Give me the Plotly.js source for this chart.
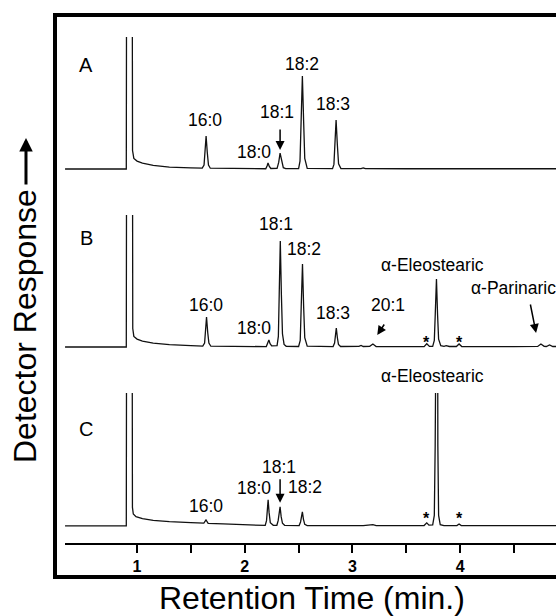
<!DOCTYPE html>
<html>
<head>
<meta charset="utf-8">
<script src="https://cdn.plot.ly/plotly-3.0.1.min.js"></script>
<style>
html, body { margin: 0; padding: 0; background: #fff; overflow: hidden; }
#chart { width: 556px; height: 616px; }
</style>
</head>
<body>
<div id="chart"></div>
<script>
// Retention time (min) and detector response (% of full scale; 300 = off-scale) for each chromatogram
const timeA = [0.331, 0.900, 0.905, 0.952, 0.958, 0.970, 1.000, 1.050, 1.150, 1.300, 1.500,
  1.605, 1.622, 1.631, 1.641, 1.652, 1.663, 1.680, 1.900, 2.100,
  2.195, 2.208, 2.216, 2.228, 2.242, 2.300, 2.315, 2.328, 2.341, 2.358, 2.380,
  2.500, 2.513, 2.523, 2.535, 2.547, 2.557, 2.580,
  2.815, 2.828, 2.838, 2.848, 2.860, 2.871, 2.893,
  3.000, 3.080, 3.100, 3.120, 3.500, 4.000, 4.500, 4.890];
const respA = [0, 0, 300, 300, 14, 8, 6, 4.5, 2.8, 1.5, 0.9,
  0.7, 3, 12.5, 25, 12.5, 3, 0.6, 0.4, 0.2,
  0.2, 2.5, 4.5, 2, 0.4, 0.5, 5, 12.1, 6, 1, 0.3,
  0.3, 6, 35, 70.5, 35, 8, 0.5,
  0.3, 3.5, 18, 37.1, 18, 4, 0.3,
  0.2, 0.3, 0.9, 0.3, 0.2, 0.3, 0.1, 0.2];

const timeB = [0.331, 0.900, 0.905, 0.955, 0.960, 0.970, 1.000, 1.050, 1.150, 1.300, 1.500,
  1.610, 1.627, 1.636, 1.645, 1.656, 1.667, 1.685, 1.900, 2.150,
  2.200, 2.213, 2.224, 2.235, 2.250,
  2.300, 2.312, 2.320, 2.330, 2.340, 2.350, 2.365, 2.385,
  2.500, 2.515, 2.524, 2.536, 2.547, 2.557, 2.580, 2.700,
  2.820, 2.834, 2.842, 2.850, 2.860, 2.870, 2.890,
  3.000, 3.060, 3.080, 3.100, 3.160, 3.190, 3.220, 3.450,
  3.665, 3.690, 3.715,
  3.745, 3.760, 3.769, 3.780, 3.790, 3.800, 3.820,
  3.850, 3.870, 3.900, 3.965, 3.990, 4.015, 4.200, 4.500,
  4.720, 4.750, 4.780, 4.800, 4.830, 4.860, 4.890];
const respB = [0, 0, 300, 300, 14, 8, 6, 4.5, 3, 1.8, 1,
  0.7, 3, 11, 22.7, 11, 3, 0.6, 0.4, 0.3,
  0.3, 3, 5.3, 2.5, 0.8,
  1, 8, 40, 80.3, 40, 10, 2, 0.5,
  0.4, 5, 30, 62.9, 30, 7, 0.6, 0.3,
  0.3, 3, 7, 14.4, 7, 2, 0.4,
  0.3, 0.5, 1.2, 0.4, 0.5, 2.3, 0.4, 0.3,
  0.3, 2.5, 0.5,
  0.5, 5, 25, 51.5, 25, 6, 1,
  0.5, 1, 0.4, 0.4, 2.3, 0.4, 0.2, 0.3,
  0.4, 2.3, 0.5, 0.4, 1.5, 0.4, 0.4];

const timeC = [0.331, 0.900, 0.905, 0.952, 0.957, 0.965, 0.990, 1.050, 1.150, 1.300, 1.500,
  1.620, 1.640, 1.660, 1.800, 2.000, 2.150,
  2.190, 2.202, 2.209, 2.217, 2.226, 2.237, 2.265,
  2.298, 2.310, 2.318, 2.328, 2.338, 2.350, 2.370,
  2.505, 2.518, 2.526, 2.535, 2.545, 2.557, 2.580,
  2.800, 3.100, 3.190, 3.220, 3.600,
  3.665, 3.690, 3.710,
  3.745, 3.760, 3.768, 3.772, 3.788, 3.793, 3.800, 3.815,
  3.850, 3.970, 3.990, 4.010, 4.300, 4.600, 4.890];
const respC = [0, 0, 300, 300, 14, 9, 7, 5.5, 4.2, 3.2, 2.5,
  2.2, 4.5, 2.0, 1.5, 0.9, 0.5,
  0.4, 4, 11, 19.7, 10, 2.5, 0.5,
  0.5, 4, 9, 14.4, 7, 2, 0.5,
  0.3, 3, 6.5, 10.6, 5, 1.2, 0.3,
  0.2, 0.2, 1.0, 0.2, 0.3,
  0.3, 2.3, 0.6,
  0.8, 8, 60, 300, 300, 60, 8, 1,
  0.3, 0.3, 1.5, 0.3, 0.2, 0.1, 0.2];

const tickVals = [1, 2, 3, 4];
const tickText = ['1', '2', '3', '4'];
const minorTicks = [1.5, 2.5, 3.5, 4.5];

const FONT = 'Liberation Sans, Arial, Helvetica, sans-serif';
const lineStyle = {color: '#111', width: 1.3};

const traces = [
  {x: timeA, y: respA, xaxis: 'x', yaxis: 'y', type: 'scatter', mode: 'lines', line: lineStyle, hoverinfo: 'skip'},
  {x: timeB, y: respB, xaxis: 'x', yaxis: 'y2', type: 'scatter', mode: 'lines', line: lineStyle, hoverinfo: 'skip'},
  {x: timeC, y: respC, xaxis: 'x', yaxis: 'y3', type: 'scatter', mode: 'lines', line: lineStyle, hoverinfo: 'skip'}
];

function lab(text, x, y, yref, opts) {
  return Object.assign({text: text, x: x, y: y, xref: 'x', yref: yref, showarrow: false,
    xanchor: 'center', yanchor: 'middle', font: {family: FONT, size: 17.5, color: '#000'}}, opts || {});
}
function arrow(x, y, yref, ax, ay) {
  return {text: '', x: x, y: y, xref: 'x', yref: yref, showarrow: true, arrowhead: 2,
    arrowsize: 1.2, arrowwidth: 1.5, arrowcolor: '#000', ax: ax, ay: ay};
}
const letterFont = {family: FONT, size: 20, color: '#000'};
const starFont = {family: FONT, size: 16, color: '#000', weight: 'bold'};

const annotations = [
  // Panel A
  lab('A', 0.526, 78.8, 'y', {font: letterFont}),
  lab('16:0', 1.63, 37.1, 'y'),
  lab('18:0', 2.086, 12.9, 'y'),
  lab('18:1', 2.30, 43.2, 'y'),
  lab('18:2', 2.53, 79.5, 'y'),
  lab('18:3', 2.82, 49.2, 'y'),
  arrow(2.328, 14.4, 'y', 0, -22),
  // Panel B
  lab('B', 0.526, 82.6, 'y2', {font: letterFont}),
  lab('16:0', 1.64, 31.8, 'y2'),
  lab('18:0', 2.086, 14.4, 'y2'),
  lab('18:1', 2.29, 93.2, 'y2'),
  lab('18:2', 2.55, 74.2, 'y2'),
  lab('18:3', 2.82, 25.8, 'y2'),
  lab('20:1', 3.33, 31.8, 'y2'),
  arrow(3.23, 9.1, 'y2', 8, -12),
  lab('α-Eleostearic', 3.74, 62.1, 'y2'),
  lab('*', 3.69, 3.5, 'y2', {font: starFont}),
  lab('*', 3.99, 3.5, 'y2', {font: starFont}),
  lab('α-Parinaric', 4.08, 44.7, 'y2', {xanchor: 'left'}),
  arrow(4.705, 10.6, 'y2', -6, -30),
  // Panel C
  lab('C', 0.526, 72.7, 'y3', {font: letterFont}),
  lab('16:0', 1.64, 15.2, 'y3'),
  lab('18:0', 2.086, 28.8, 'y3'),
  lab('18:1', 2.318, 44.7, 'y3'),
  arrow(2.328, 17.4, 'y3', 0, -25),
  lab('18:2', 2.56, 29.5, 'y3'),
  lab('α-Eleostearic', 3.74, 100, 'y3', {yshift: 17}),
  lab('*', 3.69, 5.8, 'y3', {font: starFont}),
  lab('*', 3.99, 5.8, 'y3', {font: starFont}),
  // Axis titles
  {text: 'Detector Response', xref: 'paper', yref: 'paper', x: -0.0599, y: 0.4466,
    xanchor: 'center', yanchor: 'middle', textangle: -90, showarrow: false,
    font: {family: FONT, size: 32, color: '#000'}},
  {text: '', xref: 'paper', yref: 'paper', x: -0.0579, y: 0.7811, showarrow: true,
    arrowhead: 2, arrowsize: 0.9, arrowwidth: 3, arrowcolor: '#000', ax: 0, ay: 48},
  {text: 'Retention Time (min.)', xref: 'paper', yref: 'paper', x: 0.513, y: -0.0374,
    xanchor: 'center', yanchor: 'middle', showarrow: false,
    font: {family: FONT, size: 32, color: '#000'}}
];

const hiddenY = {visible: false, range: [-5, 100], fixedrange: true};

const layout = {
  width: 556, height: 616,
  margin: {l: 55, r: 0, t: 15, b: 39},
  paper_bgcolor: '#fff', plot_bgcolor: 'rgba(0,0,0,0)',
  showlegend: false,
  xaxis: {
    domain: [0.02, 1], range: [0.331, 4.89], anchor: 'free', position: 0.0587,
    showline: true, linecolor: '#000', linewidth: 2, showgrid: false, zeroline: false,
    ticks: 'outside', ticklen: 8, tickwidth: 2, tickcolor: '#000',
    tickvals: tickVals, ticktext: tickText,
    tickfont: {family: FONT, size: 16, color: '#000', weight: 'bold'},
    minor: {tickvals: minorTicks, ticks: 'outside', ticklen: 8, tickwidth: 2, tickcolor: '#000', showgrid: false}
  },
  yaxis: Object.assign({domain: [0.7142, 0.9609]}, hiddenY),
  yaxis2: Object.assign({domain: [0.3975, 0.6441]}, hiddenY),
  yaxis3: Object.assign({domain: [0.0790, 0.3274]}, hiddenY),
  shapes: [
    {type: 'rect', xref: 'paper', yref: 'paper', x0: 0, x1: 1.1, y0: 0, y1: 1,
      line: {color: '#000', width: 4}, fillcolor: 'rgba(0,0,0,0)', layer: 'above'}
  ],
  annotations: annotations
};

Plotly.newPlot('chart', traces, layout, {displayModeBar: false, staticPlot: true});
</script>
</body>
</html>
